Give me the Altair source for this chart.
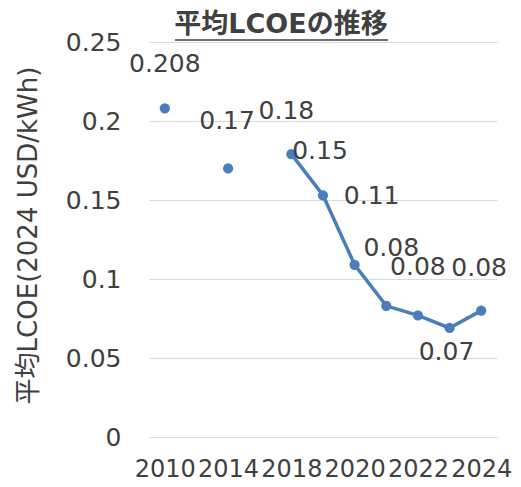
import altair as alt
import pandas as pd

categories = ["2010", "2012", "2014", "2016", "2018", "2019", "2020", "2021", "2022", "2023", "2024"]
years = ["2010", "2014", "2018", "2019", "2020", "2021", "2022", "2023", "2024"]
lcoe = [0.208, 0.170, 0.179, 0.153, 0.109, 0.083, 0.077, 0.069, 0.080]
labels = ["0.208", "0.17", "0.18", "0.15", "0.11", "0.08", "0.08", "0.07", "0.08"]
tick_labels = ["2010", "2014", "2018", "2020", "2022", "2024"]
y_ticks = [0, 0.05, 0.1, 0.15, 0.2, 0.25]
title_text = "平均LCOEの推移"
y_title = "平均LCOE(2024 USD/kWh)"

df = pd.DataFrame({"year": years, "lcoe": lcoe, "label": labels,
                   "yr": [int(y) for y in years]})
title_df = pd.DataFrame({"t": [title_text]})

BLUE = "#4a7ebb"
NUM_FONT = "DejaVu Sans"
MIX_FONT = "DejaVu Sans, Noto Sans CJK JP"

x_enc = alt.X("year:N",
              scale=alt.Scale(type="point", domain=categories, padding=0.5),
              axis=alt.Axis(values=tick_labels, title=None, labelOverlap=False,
                            labelAngle=0, domain=False, ticks=False, tickSize=0,
                            labelPadding=20, labelFontSize=24, labelFont=NUM_FONT,
                            labelColor="#404040", grid=False))
y_enc = alt.Y("lcoe:Q",
              scale=alt.Scale(domain=[0, 0.25], nice=False, zero=True),
              axis=alt.Axis(values=y_ticks, format="~g", title=y_title,
                            domain=False, ticks=False, tickSize=0, labelPadding=28,
                            labelFontSize=25, labelFont=NUM_FONT, labelColor="#404040",
                            grid=True, gridColor="#d9d9d9", gridWidth=1,
                            titleFont=MIX_FONT, titleFontSize=26, titleFontWeight="normal",
                            titleColor="#404040", titleAngle=270, titleX=-121, titleY=193,
                            titleAlign="center", titleBaseline="middle"))

base = alt.Chart(df).encode(x=x_enc, y=y_enc)

line = base.transform_filter(alt.datum.yr >= 2018).mark_line(color=BLUE, strokeWidth=3.5)
points = base.mark_circle(color=BLUE, size=105, opacity=1)

offsets = {
    "2010": (0, -44), "2014": (-1, -47), "2018": (-5, -43), "2019": (-3, -44),
    "2020": (17, -69), "2021": (5, -58), "2022": (0, -48), "2023": (-3, 24),
    "2024": (-2, -43),
}
text_layers = []
for yv, (dx, dy) in offsets.items():
    text_layers.append(
        base.transform_filter(alt.datum.year == yv)
        .mark_text(font=NUM_FONT, fontSize=25, color="#404040", dx=dx, dy=dy,
                   baseline="middle", align="center")
        .encode(text="label:N")
    )

title_mark = alt.Chart(title_df).mark_text(
    font=MIX_FONT, fontSize=27, fontWeight="bold", color="#404040",
    align="center", baseline="middle"
).encode(x=alt.value(132), y=alt.value(-17), text="t:N")

underline = alt.Chart(title_df).mark_rule(
    color="#404040", strokeWidth=1.5
).encode(x=alt.value(26), x2=alt.value(239), y=alt.value(-2))

chart = alt.layer(line, points, *text_layers, title_mark, underline).properties(
    width=348, height=395,
    autosize=alt.AutoSizeParams(type="none"),
    padding={"left": 141, "top": 34, "right": 16, "bottom": 45},
).configure_view(stroke=None)

chart.save("out.html", embed_options={"renderer": "svg", "actions": False})
